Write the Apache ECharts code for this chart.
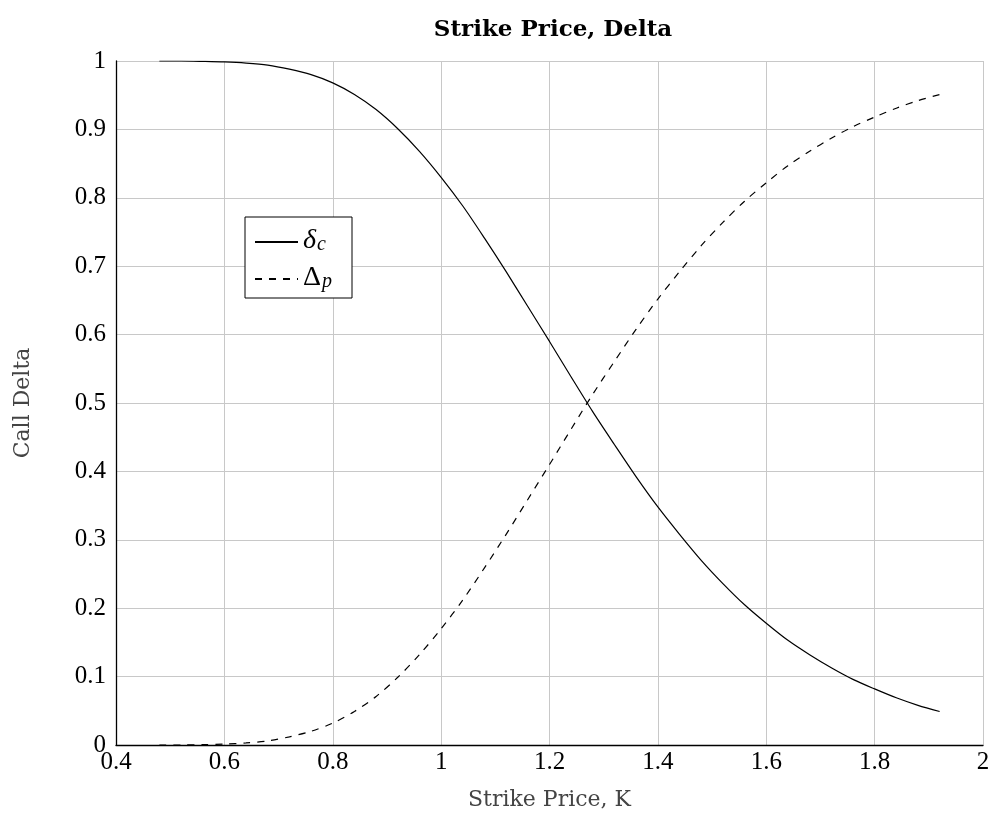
<!DOCTYPE html>
<html>
<head>
<meta charset="utf-8">
<script src="https://cdn.jsdelivr.net/npm/echarts@6/dist/echarts.min.js"></script>
<style>
  html, body { margin: 0; padding: 0; background: #fff; }
  #chart { width: 994px; height: 823px; }
</style>
</head>
<body>
<div id="chart"></div>
<script>
// Strike prices sampled along the x axis
var strikes = [0.48, 0.52, 0.56, 0.60, 0.64, 0.68, 0.72, 0.76, 0.80, 0.84, 0.88, 0.92,
  0.96, 1.00, 1.04, 1.08, 1.12, 1.16, 1.20, 1.24, 1.28, 1.32, 1.36, 1.40, 1.44, 1.48,
  1.52, 1.56, 1.60, 1.64, 1.68, 1.72, 1.76, 1.80, 1.84, 1.88, 1.92];

// Call delta (solid curve)
var callDelta = [1.000, 1.000, 0.9995, 0.9987, 0.997, 0.994, 0.988, 0.980, 0.968, 0.951,
  0.929, 0.901, 0.868, 0.830, 0.788, 0.741, 0.692, 0.641, 0.590, 0.538, 0.487, 0.439,
  0.392, 0.348, 0.308, 0.270, 0.236, 0.205, 0.178, 0.153, 0.132, 0.113, 0.096, 0.082,
  0.069, 0.058, 0.049];

// Put delta magnitude (dashed curve)
var putDelta = [0.000, 0.000, 0.0005, 0.0013, 0.003, 0.006, 0.012, 0.020, 0.032, 0.049,
  0.071, 0.099, 0.132, 0.170, 0.212, 0.259, 0.308, 0.359, 0.410, 0.462, 0.513, 0.561,
  0.608, 0.652, 0.692, 0.730, 0.764, 0.795, 0.822, 0.847, 0.868, 0.887, 0.904, 0.918,
  0.931, 0.942, 0.951];

var seriesNames = ['delta_c', 'Delta_p'];
var xTicks = { min: 0.4, max: 2, step: 0.2 };
var yTicks = { min: 0, max: 1, step: 0.1 };

function pairs(xs, ys) {
  return xs.map(function (x, i) { return [x, ys[i]]; });
}

var SERIF = '"Liberation Serif", "DejaVu Serif", serif';
var WIDE = '"DejaVu Serif", "Liberation Serif", serif';
var chart = echarts.init(document.getElementById('chart'), null, { renderer: 'canvas' });

chart.setOption({
  backgroundColor: '#ffffff',
  animation: false,
  title: {
    text: 'Strike Price, Delta',
    left: 548,
    textAlign: 'center',
    top: 14,
    textStyle: { fontFamily: WIDE, fontWeight: 'bold', fontSize: 23, color: '#000' }
  },
  grid: { left: 116, right: 11, top: 61, bottom: 78, containLabel: false },
  legend: {
    left: 245,
    top: 217,
    orient: 'vertical',
    backgroundColor: '#fff',
    borderColor: '#000',
    borderWidth: 1,
    borderRadius: 0,
    padding: [10, 20, 6, 9],
    itemGap: 9,
    itemWidth: 43,
    itemHeight: 24,
    data: seriesNames,
    itemStyle: { color: 'rgba(0,0,0,0)', borderColor: 'rgba(0,0,0,0)', borderWidth: 0 },
    formatter: function (name) {
      return name === 'delta_c' ? '{g|δ}{s|c}' : '{u|Δ}{s|p}';
    },
    textStyle: {
      fontFamily: SERIF,
      color: '#000',
      padding: [0, 0, 0, 0],
      rich: {
        g: { fontFamily: SERIF, fontStyle: 'italic', fontSize: 28, color: '#000', verticalAlign: 'bottom', lineHeight: 26 },
        u: { fontFamily: SERIF, fontSize: 28, color: '#000', verticalAlign: 'bottom', lineHeight: 26 },
        s: { fontFamily: SERIF, fontStyle: 'italic', fontSize: 20, color: '#000', verticalAlign: 'bottom', lineHeight: 16, padding: [0, 0, 0, 1] }
      }
    }
  },
  xAxis: {
    type: 'value',
    min: xTicks.min,
    max: xTicks.max,
    interval: xTicks.step,
    name: 'Strike Price, K',
    nameLocation: 'middle',
    nameGap: 44,
    nameTextStyle: { fontFamily: WIDE, fontSize: 22, color: '#444' },
    axisLine: { show: true, onZero: false, lineStyle: { color: '#000', width: 1.3 } },
    axisTick: { show: false },
    axisLabel: { fontFamily: SERIF, fontSize: 25, color: '#000', margin: 5 },
    splitLine: { show: true, lineStyle: { color: '#c8c8c8', width: 1 } }
  },
  yAxis: {
    type: 'value',
    min: yTicks.min,
    max: yTicks.max,
    interval: yTicks.step,
    name: 'Call Delta',
    nameLocation: 'middle',
    nameGap: 82,
    nameRotate: 90,
    nameTextStyle: { fontFamily: WIDE, fontSize: 22, color: '#444' },
    axisLine: { show: true, onZero: false, lineStyle: { color: '#000', width: 1.3 } },
    axisTick: { show: false },
    axisLabel: { fontFamily: SERIF, fontSize: 25, color: '#000', margin: 10 },
    splitLine: { show: true, lineStyle: { color: '#c8c8c8', width: 1 } }
  },
  series: [
    {
      name: seriesNames[0],
      type: 'line',
      data: pairs(strikes, callDelta),
      smooth: 0.3,
      symbol: 'circle',
      symbolSize: 0,
      showSymbol: false,
      lineStyle: { color: '#000', width: 1.2, type: 'solid' },
      itemStyle: { color: '#000' },
      z: 5
    },
    {
      name: seriesNames[1],
      type: 'line',
      data: pairs(strikes, putDelta),
      smooth: 0.3,
      symbol: 'circle',
      symbolSize: 0,
      showSymbol: false,
      lineStyle: { color: '#000', width: 1.2, type: [7, 7] },
      itemStyle: { color: '#000' },
      z: 5
    }
  ]
});
</script>
</body>
</html>
